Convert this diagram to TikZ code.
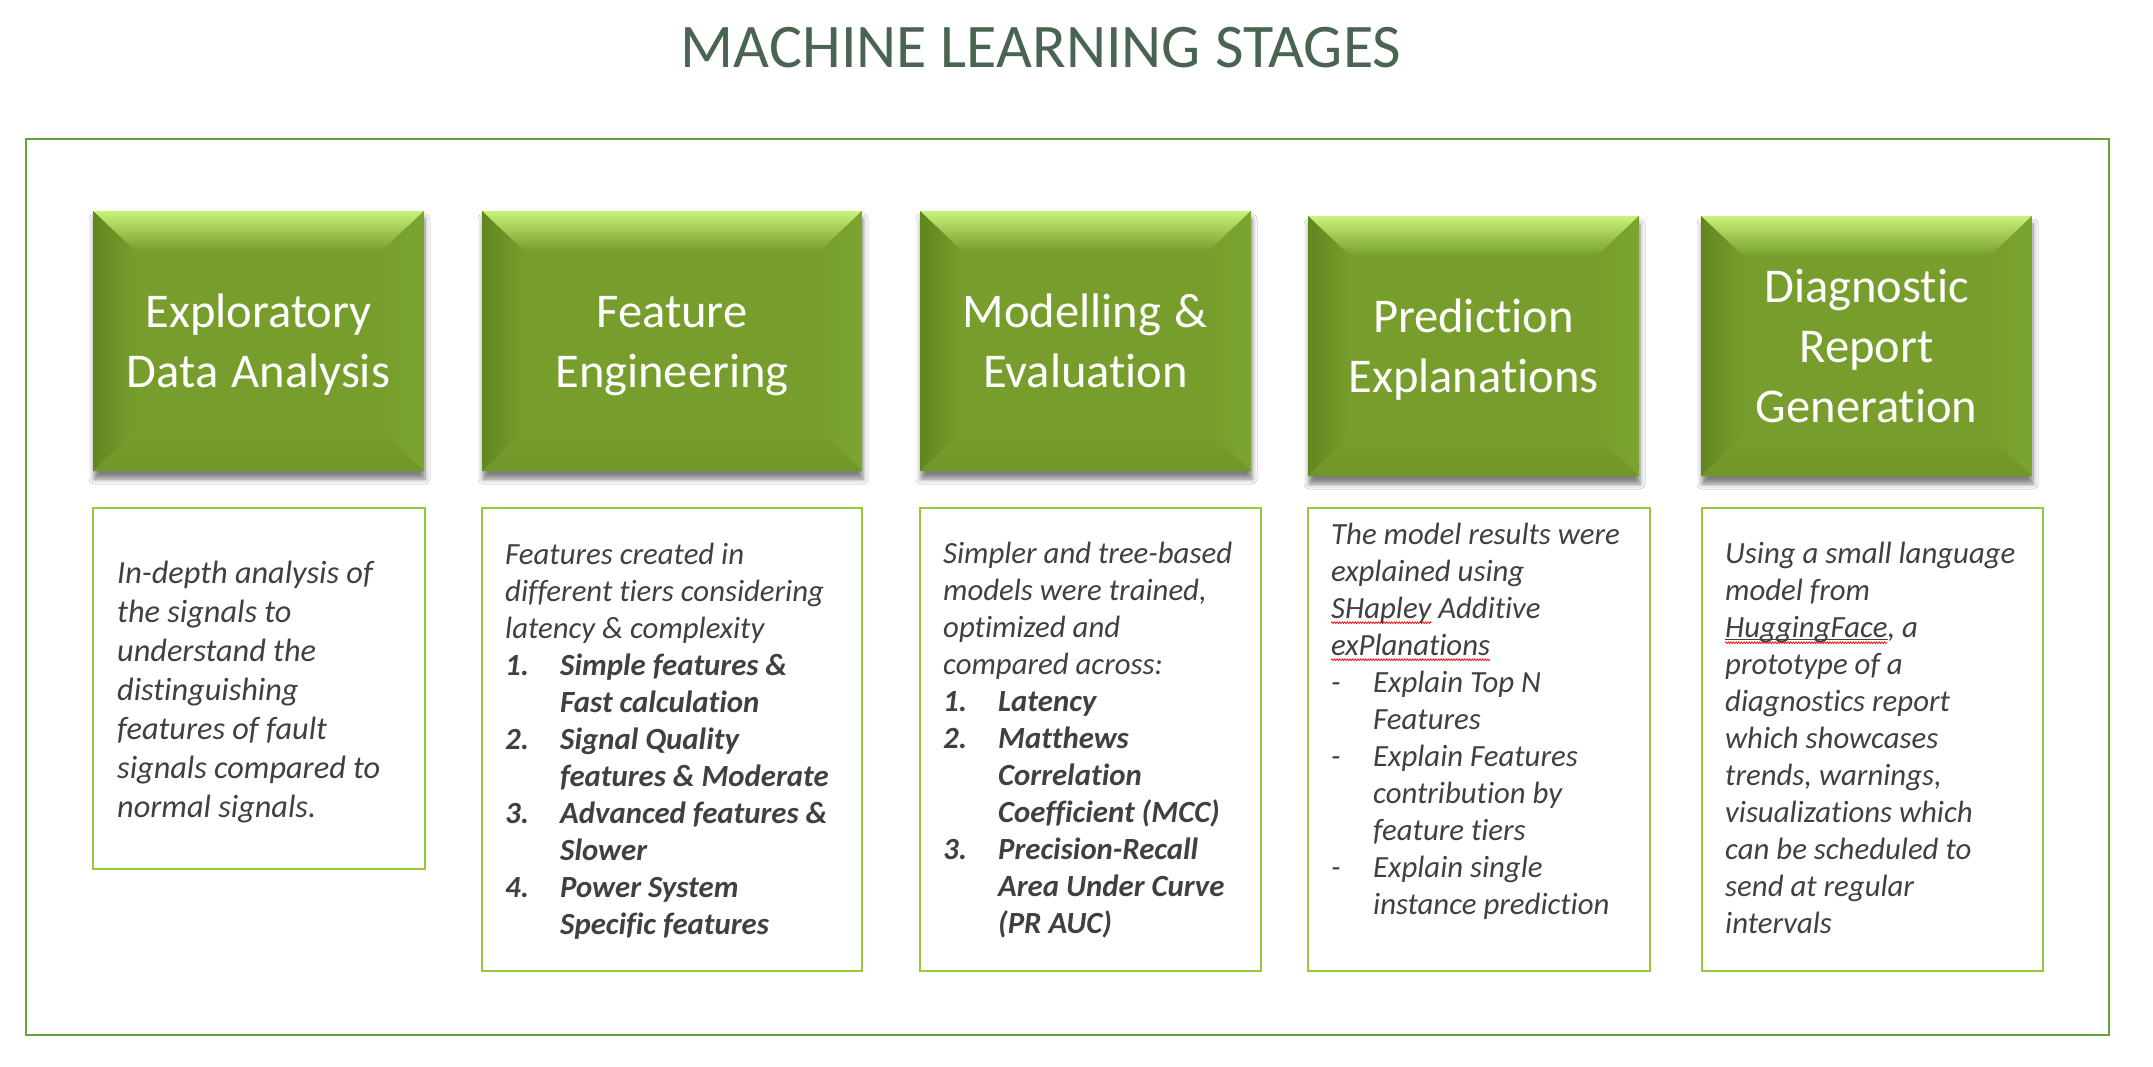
\documentclass[tikz,border=0pt]{standalone}
\usepackage{fontspec}
\setmainfont{Carlito}[Ligatures=NoCommon]
\usetikzlibrary{shadows.blur,decorations.pathmorphing}
\definecolor{basegreen}{RGB}{119,158,44}
\definecolor{toplight}{RGB}{200,242,122}
\definecolor{leftdark}{RGB}{98,134,32}
\definecolor{rightgreen}{RGB}{124,164,48}
\definecolor{bottomgreen}{RGB}{112,150,40}
\definecolor{framegreen}{RGB}{98,163,58}
\definecolor{boxborder}{RGB}{150,200,60}
\definecolor{titlecol}{RGB}{73,101,82}
\definecolor{textgray}{RGB}{64,64,64}
\newlength\sqlen
\newcommand\squig[1]{\settowidth\sqlen{#1}\mbox{\rlap{\tikz[overlay]\draw[red,line width=0.7pt,decorate,decoration={zigzag,amplitude=0.9pt,segment length=2.6pt}] (0pt,-4.5pt) -- (\sqlen,-4.5pt);}#1}}
\newcommand\squigu[1]{\settowidth\sqlen{#1}\mbox{\rlap{\tikz[overlay]{\draw[textgray,line width=1pt] (0pt,-2.5pt) -- (\sqlen,-2.5pt);\draw[red,line width=0.7pt,decorate,decoration={zigzag,amplitude=0.9pt,segment length=2.6pt}] (0pt,-5.5pt) -- (\sqlen,-5.5pt);}}#1}}
\newcommand\bevelbox[4]{%
 \fill[basegreen,blur shadow={shadow xshift=1pt,shadow yshift=-8pt,shadow blur radius=5pt,shadow opacity=50}] (#1,#2) rectangle (#3,#4);
 \shade[top color=toplight,bottom color=basegreen] (#1,#2) -- (#3,#2) -- ({#3-42},{#2+40}) -- ({#1+42},{#2+40}) -- cycle;
 \shade[left color=leftdark,right color=basegreen] (#1,#2) -- ({#1+42},{#2+40}) -- ({#1+42},{#4-40}) -- (#1,#4) -- cycle;
 \shade[left color=basegreen,right color=rightgreen] (#3,#2) -- ({#3-42},{#2+40}) -- ({#3-42},{#4-40}) -- (#3,#4) -- cycle;
 \shade[top color=basegreen,bottom color=bottomgreen] (#1,#4) -- ({#1+42},{#4-40}) -- ({#3-42},{#4-40}) -- (#3,#4) -- cycle;
}
\newcommand\natsp{\spaceskip=0pt\relax\xspaceskip=0pt\relax}
\newcommand\topst{\natsp\vrule height 40pt depth 0pt width 0pt}
\newcommand\botst{\vrule height 0pt depth 40pt width 0pt}
\newcommand\fst{\natsp\vrule height 30pt depth 0pt width 0pt}
\newcommand\itm[1]{\makebox[55pt][l]{#1}}
\newcommand\dsh{\makebox[42pt][l]{-}}
\begin{document}
\begin{tikzpicture}[x=1pt,y=-1pt,
  stagetxt/.style={text=white,align=center,text width=340pt,inner sep=0pt,font=\fontsize{48.5}{60}\selectfont},
  desc/.style={anchor=north west,inner sep=0pt,text width=420pt,align=left,text=textgray,font=\fontsize{30.8}{37}\selectfont\itshape},
  descbig/.style={desc,font=\fontsize{32.3}{39}\selectfont\itshape},
  descbox/.style={draw=boxborder,line width=2.2pt},
  frame/.style={draw=framegreen,line width=2.2pt}]
\useasboundingbox[fill=white] (0,0) rectangle (2153,1066);
\node[font=\fontsize{62}{74}\selectfont,text=titlecol,anchor=base,inner sep=0pt] (title) at (1041,67) {MACHINE LEARNING STAGES};
\draw[frame] (26,139) rectangle (2109,1035);
% stage boxes
\bevelbox{93}{211}{424}{471}
\bevelbox{482}{211}{862}{471}
\bevelbox{920}{211}{1251}{471}
\bevelbox{1308}{216}{1639}{476}
\bevelbox{1701}{216}{2032}{476}
\node[stagetxt] (s1) at (258.5,357) {\topst Exploratory\\Data Analysis\botst};
\node[stagetxt] (s2) at (672,357) {\topst Feature\\Engineering\botst};
\node[stagetxt] (s3) at (1085.5,357) {\topst Modelling \&\\Evaluation\botst};
\node[stagetxt] (s4) at (1473.5,362) {\topst Prediction\\Explanations\botst};
\node[stagetxt] (s5) at (1866.5,362) {\topst Diagnostic\\Report\\Generation\botst};
% description boxes
\draw[descbox] (93,508) rectangle (425,869);
\draw[descbox] (482,508) rectangle (862,971);
\draw[descbox] (920,508) rectangle (1261,971);
\draw[descbox] (1308,508) rectangle (1650,971);
\draw[descbox] (1702,508) rectangle (2043,971);
\node[descbig] (d1) at (117,553) {\fst In-depth analysis of\\the signals to\\understand the\\distinguishing\\features of fault\\signals compared to\\normal signals.};
\node[desc] (d2) at (505,534) {\fst Features created in\\different tiers considering\\latency \& complexity\\
\bfseries\itm{1.}Simple features \&\\\hspace*{55pt}Fast calculation\\
\itm{2.}Signal Quality\\\hspace*{55pt}features \& Moderate\\
\itm{3.}Advanced features \&\\\hspace*{55pt}Slower\\
\itm{4.}Power System\\\hspace*{55pt}Specific features};
\node[desc] (d3) at (943,533) {\fst Simpler and tree-based\\models were trained,\\optimized and\\compared across:\\
\bfseries\itm{1.}Latency\\
\itm{2.}Matthews\\\hspace*{55pt}Correlation\\\hspace*{55pt}Coefficient (MCC)\\
\itm{3.}Precision-Recall\\\hspace*{55pt}Area Under Curve\\\hspace*{55pt}(PR AUC)};
\node[desc] (d4) at (1331,514) {\fst The model results were\\explained using\\\squig{SHapley} Additive\\\squig{exPlanations}\\
\dsh Explain Top N\\\hspace*{42pt}Features\\
\dsh Explain Features\\\hspace*{42pt}contribution by\\\hspace*{42pt}feature tiers\\
\dsh Explain single\\\hspace*{42pt}instance prediction};
\node[desc] (d5) at (1725,533) {\fst Using a small language\\model from\\\squigu{HuggingFace}, a\\prototype of a\\diagnostics report\\which showcases\\trends, warnings,\\visualizations which\\can be scheduled to\\send at regular\\intervals};
\end{tikzpicture}
\end{document}
